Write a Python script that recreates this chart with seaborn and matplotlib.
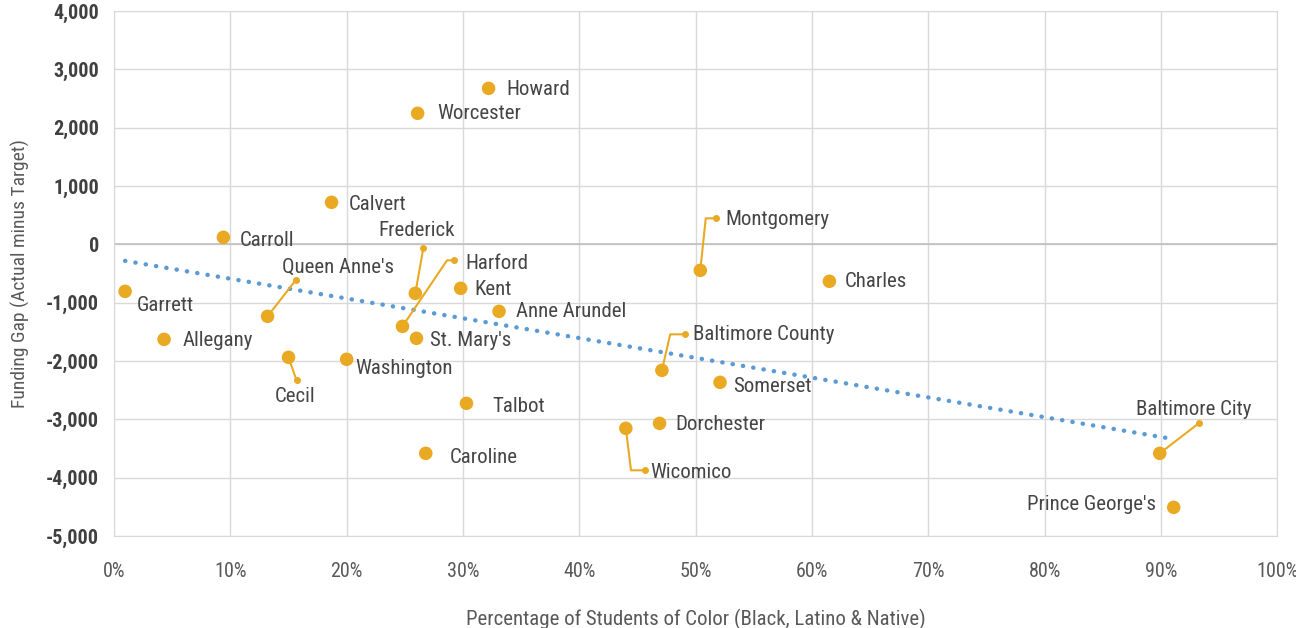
import numpy as np
import pandas as pd
import matplotlib
matplotlib.use('Agg')
import matplotlib.pyplot as plt
import matplotlib.transforms as mtransforms
import seaborn as sns

# county data
counties = ['Garrett', 'Allegany', 'Carroll', "Queen Anne's", 'Cecil', 'Calvert',
            'Washington', 'Worcester', "St. Mary's", 'Harford', 'Frederick', 'Caroline',
            'Kent', 'Howard', 'Talbot', 'Anne Arundel', 'Wicomico', 'Dorchester',
            'Baltimore County', 'Montgomery', 'Somerset', 'Charles', 'Baltimore City',
            "Prince George's"]
pct_color = [0.95, 4.3, 9.4, 13.2, 15.0, 18.7,
             20.0, 26.1, 26.0, 24.8, 25.9, 26.8,
             29.8, 32.2, 30.3, 33.1, 44.0, 46.9,
             47.1, 50.4, 52.1, 61.5, 89.9,
             91.1]
funding_gap = [-806, -1629, 120, -1234, -1937, 720,
               -1971, 2246, -1611, -1406, -840, -3583,
               -754, 2674, -2726, -1149, -3154, -3069,
               -2160, -446, -2366, -634, -3583,
               -4509]

df = pd.DataFrame({'county': counties, 'pct': pct_color, 'gap': funding_gap})

# label placement: (dx, dy) in pixels, horizontal alignment,
# optional leader end (dx, dy) and elbow angle
label_pos = {
    'Garrett': (12, -14, 'left', None, None),
    'Allegany': (19, -1, 'left', None, None),
    'Carroll': (16, -3, 'left', None, None),
    "Queen Anne's": (70, 49, 'center', (28, 36), None),
    'Cecil': (7, -39, 'center', (8, -23), None),
    'Calvert': (17, -2, 'left', None, None),
    'Washington': (9, -9, 'left', None, None),
    'Worcester': (20, 0, 'left', None, None),
    "St. Mary's": (14, -2, 'left', None, None),
    'Harford': (63, 63, 'left', (51, 66), 56),
    'Frederick': (40, 63, 'right', (8, 45), None),
    'Caroline': (24, -4, 'left', None, None),
    'Kent': (14, -1, 'left', None, None),
    'Howard': (18, -1, 'left', None, None),
    'Talbot': (26, -3, 'left', None, None),
    'Anne Arundel': (17, 0, 'left', None, None),
    'Wicomico': (24, -44, 'left', (19, -42), 97),
    'Dorchester': (16, -1, 'left', None, None),
    'Baltimore County': (31, 36, 'left', (23, 36), 77),
    'Montgomery': (25, 51, 'left', (16, 52), 84),
    'Somerset': (13, -4, 'left', None, None),
    'Charles': (15, 0, 'left', None, None),
    'Baltimore City': (34, 44, 'center', (39, 30), None),
    "Prince George's": (-18, 3, 'right', None, None),
}

sns.set_style('white')
plt.rcParams['font.family'] = ['Roboto Condensed', 'DejaVu Sans']

gold = '#E9A923'
text_col = '#454545'
px = 0.72  # points per pixel at dpi 100

fig = plt.figure(figsize=(12.96, 6.28), dpi=100)
ax = fig.add_axes([0.088, 0.1465, 0.8975, 0.836])

# trend line (linear fit)
slope, intercept = np.polyfit(df['pct'], df['gap'], 1)
xs = np.array([df['pct'].min(), df['pct'].max()])
ax.plot(xs, slope * xs + intercept, color='#5B9BD5', linewidth=3.2,
        linestyle=(0, (0.05, 2.3)), dash_capstyle='round', zorder=2)

sns.scatterplot(data=df, x='pct', y='gap', color=gold, s=95, edgecolor='none',
                ax=ax, zorder=4, legend=False)

for _, row in df.iterrows():
    dx, dy, ha, lead, ang = label_pos[row['county']]
    ax.annotate(row['county'], (row['pct'], row['gap']),
                xytext=(dx * px, dy * px), textcoords='offset points',
                ha=ha, va='center', fontsize=15, color=text_col, zorder=5)
    if lead is not None:
        lx, ly = lead
        if ang is None:
            cs = 'arc3,rad=0'
        else:
            cs = f'angle,angleA=0,angleB={ang},rad=0'
        ax.annotate('', xy=(row['pct'], row['gap']),
                    xytext=(lx * px, ly * px), textcoords='offset points',
                    arrowprops=dict(arrowstyle='-', color=gold, lw=1.5,
                                    shrinkA=0, shrinkB=0, connectionstyle=cs),
                    zorder=3)
        tr = mtransforms.offset_copy(ax.transData, fig=fig, x=lx * px, y=ly * px,
                                     units='points')
        ax.plot([row['pct']], [row['gap']], 'o', color=gold, markersize=4,
                transform=tr, zorder=3)

ax.set_xlim(0, 100)
ax.set_ylim(-5000, 4000)
ax.set_xticks(np.arange(0, 101, 10))
ax.set_xticklabels([f'{v}%' for v in range(0, 101, 10)])
ax.set_yticks(np.arange(-5000, 4001, 1000))
ax.set_yticklabels([f'{v:,}' for v in range(-5000, 4001, 1000)])

ax.grid(True, color='#D9D9D9', linewidth=1)
ax.axhline(0, color='#BFBFBF', linewidth=1.2, zorder=1)
ax.set_axisbelow(True)
for s in ax.spines.values():
    s.set_color('#D9D9D9')

ax.tick_params(axis='both', length=0)
ax.tick_params(axis='x', labelsize=14.5, labelcolor='#595959', pad=19)
ax.tick_params(axis='y', labelsize=14.5, labelcolor='#404040', pad=11)
for t in ax.get_yticklabels():
    t.set_fontweight('bold')

ax.set_xlabel('Percentage of Students of Color (Black, Latino & Native)',
              fontsize=15, color='#595959', labelpad=20)
ax.set_ylabel('Funding Gap (Actual minus Target)', fontsize=14, color='#595959',
              labelpad=11)

plt.savefig('out.png', dpi=100)
